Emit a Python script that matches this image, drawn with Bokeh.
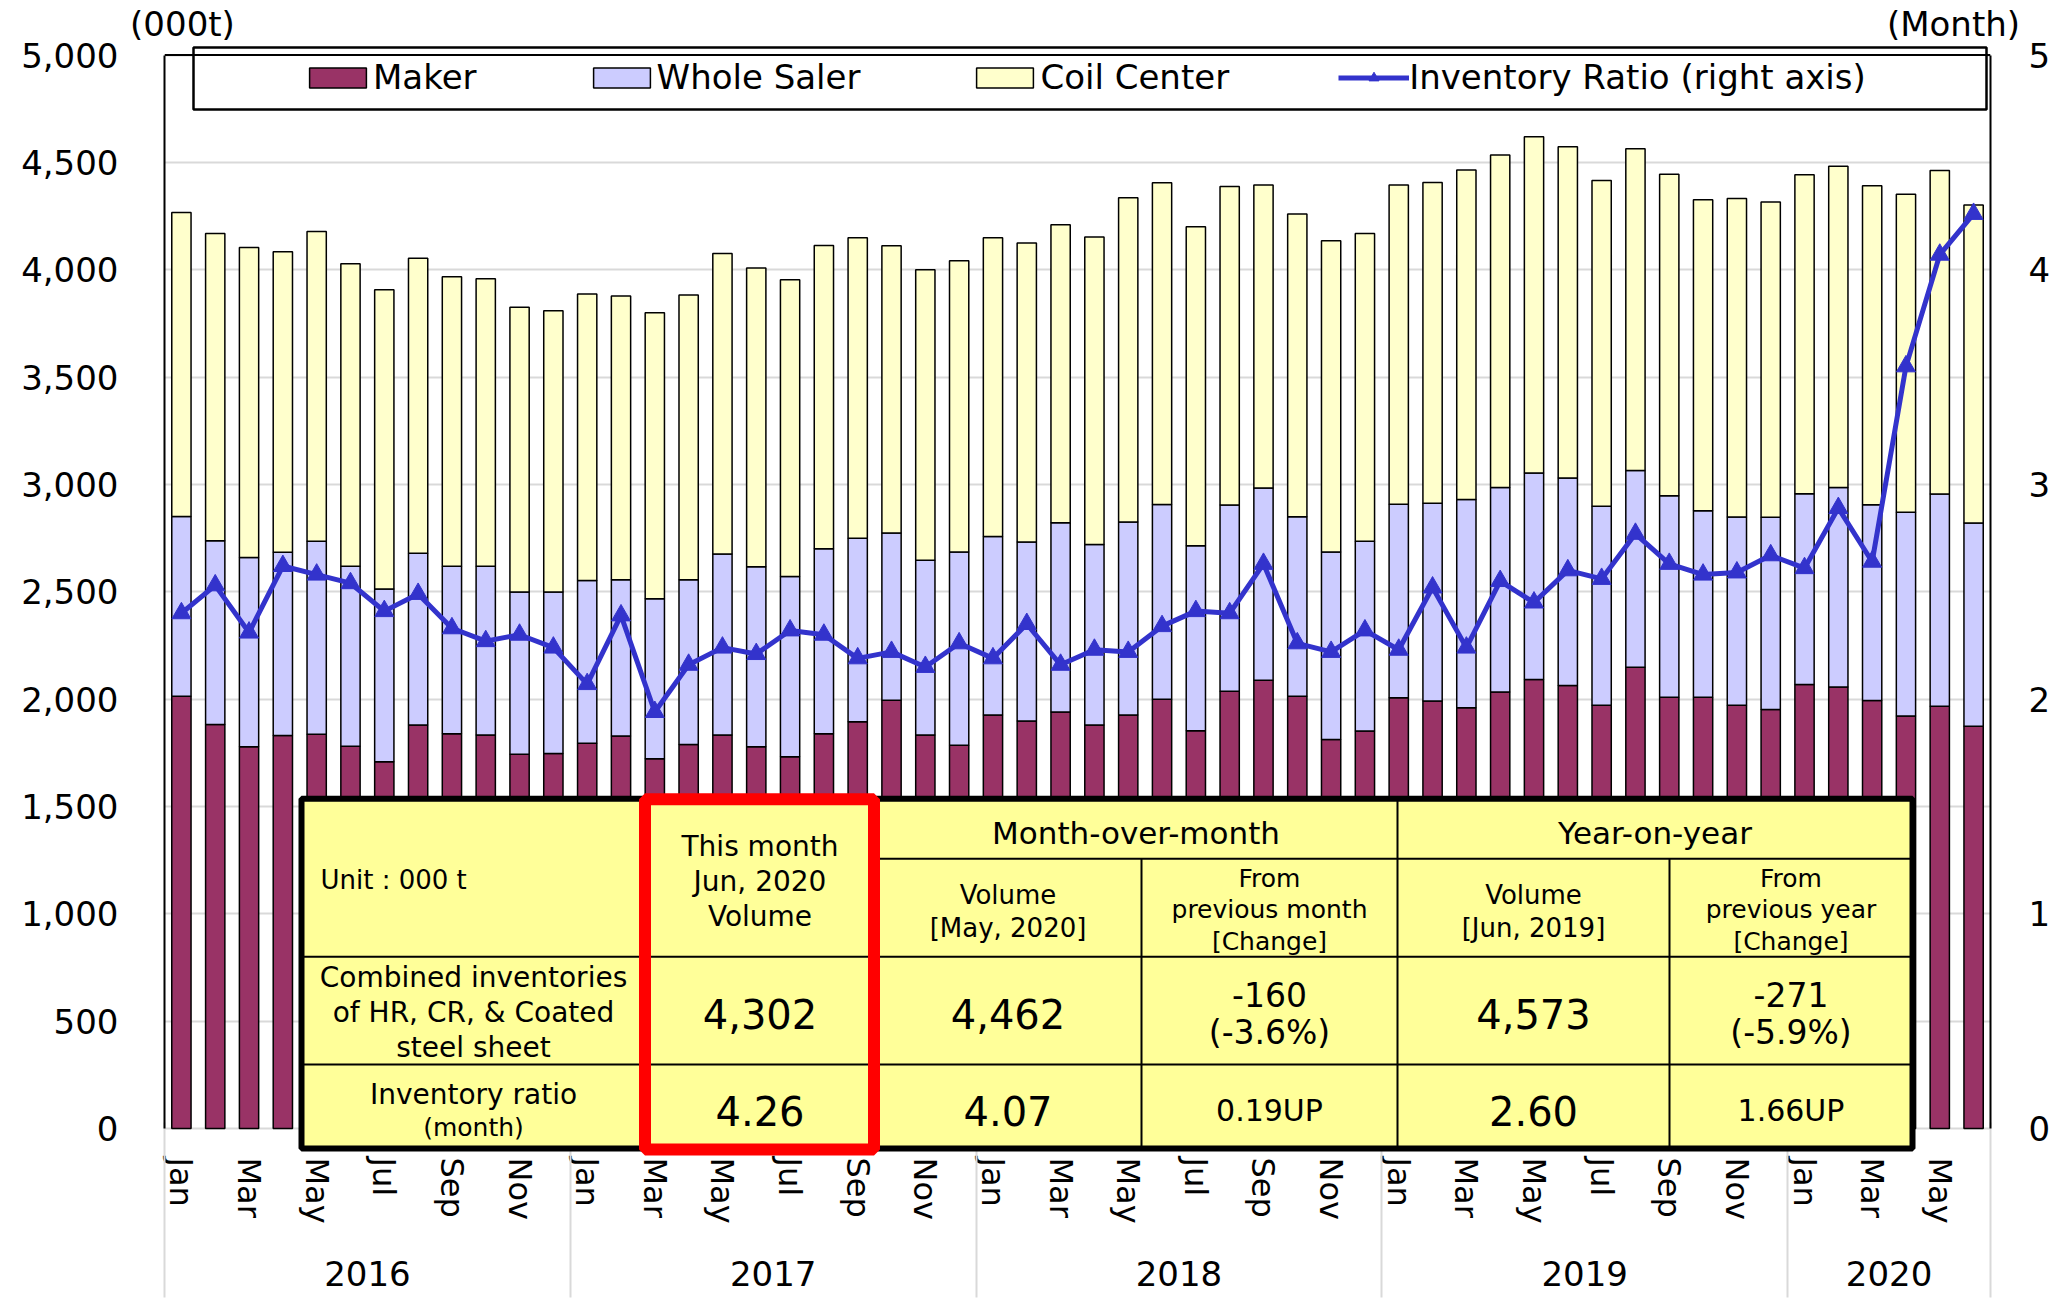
from bokeh.plotting import figure
from bokeh.models import (ColumnDataSource, Range1d, LinearAxis, FixedTicker,
                          NumeralTickFormatter, Legend, LegendItem, Label, Span)
from bokeh.embed import file_html
from bokeh.resources import INLINE

# ---------------- data ----------------
month_names = ["Jan", "Feb", "Mar", "Apr", "May", "Jun",
               "Jul", "Aug", "Sep", "Oct", "Nov", "Dec"] * 4 + \
              ["Jan", "Feb", "Mar", "Apr", "May", "Jun"]
years = ["2016", "2017", "2018", "2019", "2020"]
year_first_index = [0, 12, 24, 36, 48]

maker = [2014, 1882, 1778, 1831, 1836, 1781, 1708, 1879, 1839, 1833, 1743, 1747,
         1794, 1828, 1722, 1789, 1833, 1778, 1732, 1839, 1895, 1995, 1833, 1785,
         1926, 1898, 1940, 1879, 1926, 1999, 1853, 2037, 2088, 2014, 1812, 1851,
         2006, 1991, 1960, 2033, 2092, 2064, 1971, 2149, 2009, 2009, 1971, 1952,
         2068, 2056, 1994, 1921, 1967, 1874]
whole_saler = [837, 856, 882, 853, 899, 838, 805, 800, 780, 786, 756, 752,
               758, 728, 746, 767, 843, 839, 839, 862, 854, 779, 814, 900,
               832, 834, 882, 841, 899, 908, 862, 867, 895, 836, 873, 884,
               902, 921, 970, 953, 961, 966, 927, 916, 938, 869, 877, 895,
               889, 930, 911, 949, 988, 946]
coil_center = [1416, 1431, 1444, 1400, 1443, 1409, 1394, 1375, 1348, 1339, 1326, 1310,
               1335, 1322, 1332, 1326, 1400, 1391, 1382, 1412, 1400, 1338, 1353, 1357,
               1391, 1392, 1387, 1432, 1510, 1498, 1485, 1484, 1412, 1410, 1450, 1434,
               1487, 1494, 1534, 1548, 1567, 1543, 1518, 1499, 1498, 1448, 1484, 1469,
               1485, 1496, 1486, 1482, 1507, 1482]
inventory_ratio = [2.40, 2.53, 2.31, 2.62, 2.58, 2.54, 2.41, 2.49, 2.33, 2.27, 2.30, 2.24,
                   2.07, 2.39, 1.94, 2.16, 2.24, 2.21, 2.32, 2.30, 2.19, 2.22, 2.15, 2.26,
                   2.19, 2.35, 2.16, 2.23, 2.22, 2.34, 2.41, 2.40, 2.63, 2.26, 2.22, 2.32,
                   2.23, 2.52, 2.24, 2.55, 2.45, 2.60, 2.56, 2.77, 2.63, 2.58, 2.59, 2.67,
                   2.61, 2.89, 2.64, 3.55, 4.07, 4.26]

series_names = ["Maker", "Whole Saler", "Coil Center", "Inventory Ratio (right axis)"]
unit_labels = ["(000t)", "(Month)"]
left_ticks = list(range(0, 5001, 500))
right_ticks = [0, 1, 2, 3, 4, 5]

# ---------------- geometry helpers (reference pixel -> data) ----------------
FONT = "DejaVu Sans"
N = len(maker)
X_PX = (1990 - 164) / N          # px per category
Y_PX = 967 / 4500                # px per 000t


def dx(px):
    return (px - 164) / X_PX - 0.5


def dy(py):
    return (1128 - py) / Y_PX


y_start, y_end = dy(1157), dy(44)

p = figure(width=2067, height=1304, output_backend="svg", toolbar_location=None, tools="",
           x_range=Range1d(-0.5, N - 0.5), y_range=Range1d(y_start, y_end),
           min_border_left=164, min_border_right=77, min_border_top=44, min_border_bottom=147)
xa = p.below[0]
ya = p.left[0]
p.extra_y_ranges = {"ratio": Range1d(y_start / 1000, y_end / 1000)}
p.outline_line_color = None
p.background_fill_color = "white"
p.border_fill_color = "white"
p.xgrid.visible = False
p.ygrid.grid_line_color = "#d9d9d9"
p.ygrid.grid_line_width = 2


def style_axis(ax, size, standoff):
    ax.major_tick_in = 0
    ax.major_tick_out = 0
    ax.minor_tick_in = 0
    ax.minor_tick_out = 0
    ax.minor_tick_line_color = None
    ax.major_tick_line_color = None
    ax.major_label_standoff = standoff
    ax.major_label_text_font = FONT
    ax.major_label_text_font_size = f"{size}px"
    ax.major_label_text_color = "black"


# left axis
style_axis(ya, 34, 46)
ya.ticker = FixedTicker(ticks=left_ticks)
ya.formatter = NumeralTickFormatter(format="0,0")
ya.bounds = (0, 5000)
ya.axis_line_color = "black"
ya.axis_line_width = 2

# right axis
ra = LinearAxis(y_range_name="ratio", ticker=FixedTicker(ticks=right_ticks), bounds=(0, 5))
style_axis(ra, 34, 38)
ra.axis_line_color = "black"
ra.axis_line_width = 2
p.add_layout(ra, "right")

# bottom axis: month labels
month_ticks = list(range(0, N, 2))
xa.ticker = FixedTicker(ticks=month_ticks)
xa.major_label_overrides = {i: month_names[i] for i in month_ticks}
xa.major_label_orientation = "vertical"
xa.axis_line_color = None
style_axis(xa, 32, 0)

# top axis carrying the unit captions
unit_pos = [dx(182), dx(1953)]
ta = LinearAxis(ticker=FixedTicker(ticks=unit_pos))
style_axis(ta, 34, 2)
ta.axis_line_color = None
ta.major_label_overrides = {unit_pos[i]: unit_labels[i] for i in range(2)}
p.add_layout(ta, "above")

# second bottom axis: year labels
year_pos = [(f + min(f + 11, N - 1)) / 2 for f in year_first_index]
yra = LinearAxis(ticker=FixedTicker(ticks=year_pos))
yra.major_label_overrides = {year_pos[i]: years[i] for i in range(len(years))}
yra.axis_line_color = None
style_axis(yra, 34, 34)
p.add_layout(yra, "below")

# third bottom axis: year separators drawn as long minor ticks pointing up to the zero line
sep_x = [i - 0.5 for i in year_first_index] + [N - 0.5]
sa = LinearAxis(ticker=FixedTicker(ticks=[], minor_ticks=sep_x))
style_axis(sa, 10, 0)
sa.axis_line_color = None
sa.minor_tick_line_color = "#d9d9d9"
sa.minor_tick_line_width = 2
sa.minor_tick_in = 166
sa.minor_tick_out = 9
p.add_layout(sa, "below")

# ---------------- marks ----------------
src = ColumnDataSource(dict(x=list(range(N)), maker=maker, ws=whole_saler,
                            cc=coil_center, ratio=inventory_ratio))
bars = p.vbar_stack(["maker", "ws", "cc"], x="x", width=0.57, source=src,
                    fill_color=["#993366", "#CCCCFF", "#FFFFCC"],
                    line_color="black", line_width=1.5)
ln = p.line("x", "ratio", source=src, y_range_name="ratio",
            line_color="#3333CC", line_width=5)
pts = p.scatter("x", "ratio", source=src, y_range_name="ratio", marker="triangle",
                size=19, fill_color="#3333CC", line_color="#3333CC")

p.add_layout(Span(location=5000, dimension="width", line_color="black", line_width=2))

# legend frame
p.quad(left=dx(193), right=dx(1986), top=dy(46), bottom=dy(108),
       fill_color="white", line_color="black", line_width=2.5)
legend = Legend(items=[LegendItem(label=series_names[0], renderers=[bars[0]]),
                       LegendItem(label=series_names[1], renderers=[bars[1]]),
                       LegendItem(label=series_names[2], renderers=[bars[2]]),
                       LegendItem(label=series_names[3], renderers=[ln, pts])],
                orientation="horizontal", location=(138, 1060),
                label_text_font=FONT, label_text_font_size="34px", label_text_color="black",
                glyph_width=71, glyph_height=25, label_standoff=0, spacing=109,
                padding=0, margin=0, border_line_color=None, background_fill_alpha=0)
p.add_layout(legend)

# ---------------- summary table ----------------
cur, prev, yago = N - 1, N - 2, N - 13
tot = [maker[i] + whole_saler[i] + coil_center[i] for i in range(N)]
mom = tot[cur] - tot[prev]
yoy = tot[cur] - tot[yago]

p.quad(left=dx(301), right=dx(1912), top=dy(798), bottom=dy(1148),
       fill_color="#FFFF99", line_color="black", line_width=6, level="annotation")
vx = [645, 874, 1141, 1397, 1669]
vtop = [798, 798, 858, 798, 858]
hy = [858, 956, 1064]
hleft = [874, 301, 301]
p.segment(x0=[dx(v) for v in vx], x1=[dx(v) for v in vx],
          y0=[dy(t) for t in vtop], y1=[dy(1148)] * len(vx),
          line_color="black", line_width=2, level="annotation")
p.segment(x0=[dx(v) for v in hleft], x1=[dx(1912)] * len(hy),
          y0=[dy(h) for h in hy], y1=[dy(h) for h in hy],
          line_color="black", line_width=2, level="annotation")
p.quad(left=dx(644.5), right=dx(873.5), top=dy(798.5), bottom=dy(1149),
       fill_color=None, line_color="#FF0000", line_width=12, level="annotation")


def txt(s, px, py, size, align="center"):
    p.add_layout(Label(x=dx(px), y=dy(py), text=s, text_font=FONT,
                       text_font_size=f"{size}px", text_align=align,
                       text_baseline="middle", text_color="black"))


c1, c2, c3, c4, c5, c6 = 473, 759.5, 1007.5, 1269, 1533, 1790.5
cur_label = f"{month_names[cur]}, {years[cur // 12]}"
prev_label = f"[{month_names[prev]}, {years[prev // 12]}]"
yago_label = f"[{month_names[yago]}, {years[yago // 12]}]"

txt("Unit : 000 t", 320, 879, 26, "left")
txt("This month", c2, 846, 28)
txt(cur_label, c2, 881, 28)
txt("Volume", c2, 916, 28)
txt("Month-over-month", 1135.5, 832, 31)
txt("Year-on-year", 1654.5, 832, 31)
txt("Volume", c3, 894, 26)
txt(prev_label, c3, 927, 26)
txt("From", c4, 878, 25)
txt("previous month", c4, 909, 25)
txt("[Change]", c4, 941, 25)
txt("Volume", c5, 894, 26)
txt(yago_label, c5, 927, 26)
txt("From", c6, 878, 25)
txt("previous year", c6, 909, 25)
txt("[Change]", c6, 941, 25)

txt("Combined inventories", c1, 977, 28)
txt("of HR, CR, & Coated", c1, 1012, 28)
txt("steel sheet", c1, 1047, 28)
txt(f"{tot[cur]:,}", c2, 1013, 40)
txt(f"{tot[prev]:,}", c3, 1013, 40)
txt(f"{mom:,}", c4, 994, 33)
txt(f"({mom / tot[prev] * 100:.1f}%)", c4, 1032, 33)
txt(f"{tot[yago]:,}", c5, 1013, 40)
txt(f"{yoy:,}", c6, 994, 33)
txt(f"({yoy / tot[yago] * 100:.1f}%)", c6, 1032, 33)

txt("Inventory ratio", c1, 1094, 28)
txt("(month)", c1, 1127, 25)
txt(f"{inventory_ratio[cur]:.2f}", c2, 1110, 40)
txt(f"{inventory_ratio[prev]:.2f}", c3, 1110, 40)
txt(f"{inventory_ratio[cur] - inventory_ratio[prev]:.2f}UP", c4, 1110, 30)
txt(f"{inventory_ratio[yago]:.2f}", c5, 1110, 40)
txt(f"{inventory_ratio[cur] - inventory_ratio[yago]:.2f}UP", c6, 1110, 30)

open("out.html", "w").write(file_html(p, INLINE))
